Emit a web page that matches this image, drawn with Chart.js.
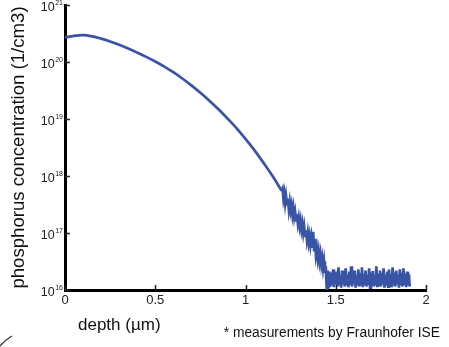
<!DOCTYPE html>
<html>
<head>
<meta charset="utf-8">
<script src="https://cdn.jsdelivr.net/npm/chart.js@4"></script>
<style>
  html, body { margin: 0; padding: 0; background: #fff; }
  #wrap { width: 449px; height: 347px; position: relative; }
</style>
</head>
<body>
<div id="wrap"><canvas id="c" width="449" height="347"></canvas></div>
<script>
// ---- data ----
// smooth diffusion profile (depth in µm, concentration in 1/cm3)
const smoothDepths = [
  0.00, 0.05, 0.10, 0.15, 0.20, 0.25, 0.30, 0.35, 0.40, 0.45,
  0.50, 0.55, 0.60, 0.65, 0.70, 0.75, 0.80, 0.85, 0.90, 0.95,
  1.00, 1.05, 1.10, 1.15, 1.20
];
const smoothConc = [
  2.69e20, 2.88e20, 2.95e20, 2.82e20, 2.57e20, 2.29e20, 2.0e20, 1.72e20, 1.46e20, 1.23e20,
  1.02e20, 8.32e19, 6.61e19, 5.13e19, 3.89e19, 2.88e19, 2.09e19, 1.48e19, 1.02e19, 6.92e18,
  4.47e18, 2.82e18, 1.70e18, 1.0e18, 5.5e17
];
// noisy measured tail
const noisyDepths = [
  1.200, 1.205, 1.210, 1.215, 1.220, 1.225, 1.230, 1.235, 1.240, 1.245,
  1.250, 1.255, 1.260, 1.265, 1.270, 1.275, 1.280, 1.285, 1.290, 1.295,
  1.300, 1.305, 1.310, 1.315, 1.320, 1.325, 1.330, 1.335, 1.340, 1.345,
  1.350, 1.355, 1.360, 1.365, 1.370, 1.375, 1.380, 1.385, 1.390, 1.395,
  1.400, 1.405, 1.410, 1.415, 1.420, 1.425, 1.430, 1.435, 1.440, 1.445,
  1.450, 1.455, 1.460, 1.465, 1.470, 1.475, 1.480, 1.485, 1.490, 1.495,
  1.500, 1.505, 1.510, 1.515, 1.520, 1.525, 1.530, 1.535, 1.540, 1.545,
  1.550, 1.555, 1.560, 1.565, 1.570, 1.575, 1.580, 1.585, 1.590, 1.595,
  1.600, 1.605, 1.610, 1.615, 1.620, 1.625, 1.630, 1.635, 1.640, 1.645,
  1.650, 1.655, 1.660, 1.665, 1.670, 1.675, 1.680, 1.685, 1.690, 1.695,
  1.700, 1.705, 1.710, 1.715, 1.720, 1.725, 1.730, 1.735, 1.740, 1.745,
  1.750, 1.755, 1.760, 1.765, 1.770, 1.775, 1.780, 1.785, 1.790, 1.795,
  1.800, 1.805, 1.810, 1.815, 1.820, 1.825, 1.830, 1.835, 1.840, 1.845,
  1.850, 1.855, 1.860, 1.865, 1.870, 1.875, 1.880, 1.885, 1.890, 1.895,
  1.900, 1.905, 1.910
];
const noisyConc = [
  5.5e17, 6.0e17, 4.0e17, 5.0e17, 3.3e17, 4.4e17, 3.2e17, 4.0e17, 2.6e17, 3.5e17,
  2.5e17, 3.1e17, 2.1e17, 2.75e17, 1.9e17, 2.35e17, 1.66e17, 2.15e17, 1.48e17, 1.86e17,
  1.32e17, 1.66e17, 1.15e17, 1.45e17, 1.0e17, 1.29e17, 8.9e16, 1.12e17, 7.6e16, 1.0e17,
  6.9e16, 8.9e16, 6.2e16, 8.3e16, 5.5e16, 1.05e17, 5.0e16, 7.9e16, 4.2e16, 5.4e16,
  3.6e16, 4.8e16, 3.2e16, 4.2e16, 2.8e16, 3.6e16, 2.4e16, 3.2e16, 2.0e16, 2.6e16,
  1.0e16, 2.2e16, 1.05e16, 2.1e16, 1.15e16, 2.0e16, 1.2e16, 2.3e16, 1.12e16, 1.9e16,
  1.25e16, 2.1e16, 1.15e16, 2.5e16, 1.2e16, 1.8e16, 1.1e16, 2.2e16, 1.26e16, 1.95e16,
  1.15e16, 2.4e16, 1.2e16, 1.85e16, 1.12e16, 2.1e16, 1.22e16, 2.6e16, 1.15e16, 1.9e16,
  1.25e16, 2.2e16, 1.1e16, 1.8e16, 1.2e16, 2.3e16, 1.15e16, 2.0e16, 1.26e16, 2.5e16,
  1.12e16, 1.9e16, 1.2e16, 2.2e16, 1.15e16, 1.85e16, 1.22e16, 2.4e16, 1.1e16, 2.0e16,
  1.25e16, 2.15e16, 1.15e16, 1.8e16, 1.2e16, 2.6e16, 1.12e16, 1.95e16, 1.22e16, 2.2e16,
  1.15e16, 2.0e16, 1.26e16, 2.4e16, 1.1e16, 1.85e16, 1.2e16, 2.1e16, 1.15e16, 2.3e16,
  1.22e16, 1.9e16, 1.12e16, 2.5e16, 1.2e16, 2.0e16, 1.15e16, 2.2e16, 1.25e16, 1.85e16,
  1.1e16, 2.3e16, 1.2e16, 2.0e16, 1.15e16, 2.4e16, 1.22e16, 1.9e16, 1.12e16, 2.1e16,
  1.2e16, 1.9e16, 1.15e16
];
const xTickValues = [0, 0.5, 1, 1.5, 2];
const yTickValues = [1e16, 1e17, 1e18, 1e19, 1e20, 1e21];
const yTickExponents = ['16', '17', '18', '19', '20', '21'];
const yTitle = 'phosphorus concentration (1/cm3)';
const xTitle = 'depth (µm)';
const footnote = '* measurements by Fraunhofer ISE';

const FONT = "'Liberation Sans','Arimo',sans-serif";
const LINE_COLOR = '#3a54a5';

const decorPlugin = {
  id: 'decor',
  afterDraw(chart) {
    const ctx = chart.ctx;
    const xs = chart.scales.x, ys = chart.scales.y;
    ctx.save();
    // inward ticks
    ctx.strokeStyle = '#222';
    ctx.lineWidth = 1.5;
    yTickValues.forEach(v => {
      const p = Math.round(ys.getPixelForValue(v)) + 0.5;
      ctx.beginPath(); ctx.moveTo(xs.left, p); ctx.lineTo(xs.left + 5, p); ctx.stroke();
    });
    xTickValues.forEach(v => {
      const p = Math.round(xs.getPixelForValue(v)) + 0.5;
      ctx.beginPath(); ctx.moveTo(p, ys.bottom); ctx.lineTo(p, ys.bottom - 5); ctx.stroke();
    });
    // y tick labels with superscripts
    ctx.fillStyle = '#222';
    ctx.textBaseline = 'alphabetic';
    ctx.textAlign = 'left';
    yTickValues.forEach((v, i) => {
      const p = ys.getPixelForValue(v);
      const right = xs.left - 2;
      ctx.font = '7px ' + FONT;
      const w2 = ctx.measureText(yTickExponents[i]).width;
      ctx.font = '12.5px ' + FONT;
      const w1 = ctx.measureText('10').width;
      ctx.fillText('10', right - w2 - w1 - 0.5, p + 5.5);
      ctx.font = '7px ' + FONT;
      ctx.fillText(yTickExponents[i], right - w2, p - 0.5);
    });
    // axis titles and footnote
    ctx.fillStyle = '#111';
    ctx.font = '18.6px ' + FONT;
    ctx.textAlign = 'center';
    ctx.textBaseline = 'middle';
    ctx.save();
    ctx.translate(19, (ys.top + ys.bottom) / 2);
    ctx.rotate(-Math.PI / 2);
    ctx.fillText(yTitle, 0, 0);
    ctx.restore();
    ctx.font = '17px ' + FONT;
    ctx.textAlign = 'left';
    ctx.fillText(xTitle, 78, 325);
    ctx.font = '13.8px ' + FONT;
    ctx.textAlign = 'right';
    ctx.fillText(footnote, 440, 333);
    // decorative arc in the lower-left corner
    ctx.strokeStyle = '#333';
    ctx.lineWidth = 1.2;
    ctx.beginPath();
    ctx.moveTo(0, 346);
    ctx.quadraticCurveTo(5, 340, 12, 336);
    ctx.stroke();
    ctx.restore();
  }
};

new Chart(document.getElementById('c'), {
  type: 'line',
  data: {
    datasets: [{
      data: smoothDepths.map((d, i) => ({ x: d, y: smoothConc[i] })),
      borderColor: LINE_COLOR,
      borderWidth: 2.7,
      pointRadius: 0,
      cubicInterpolationMode: 'monotone',
      fill: false
    }, {
      data: noisyDepths.map((d, i) => ({ x: d, y: noisyConc[i] })),
      borderColor: LINE_COLOR,
      borderWidth: 2.7,
      pointRadius: 0,
      tension: 0,
      borderJoinStyle: 'miter',
      fill: false
    }]
  },
  options: {
    responsive: false,
    animation: false,
    devicePixelRatio: 1,
    layout: { padding: { left: 0, top: 5, right: 23, bottom: 0 } },
    plugins: { legend: { display: false }, tooltip: { enabled: false } },
    scales: {
      x: {
        type: 'linear',
        min: 0, max: 2,
        afterBuildTicks: s => { s.ticks = xTickValues.map(v => ({ value: v })); },
        afterFit: s => { s.height = 57; },
        grid: { display: false, drawTicks: false },
        border: { display: true, color: '#000', width: 3 },
        ticks: {
          font: { family: FONT, size: 13 },
          color: '#222',
          padding: 3,
          maxRotation: 0,
          callback: v => String(v)
        }
      },
      y: {
        type: 'logarithmic',
        min: 1e16, max: 1e21,
        afterBuildTicks: s => { s.ticks = yTickValues.map(v => ({ value: v })); },
        afterFit: s => { s.width = 65; },
        grid: { display: false, drawTicks: false },
        border: { display: true, color: '#000', width: 3 },
        ticks: { display: false }
      }
    }
  },
  plugins: [decorPlugin]
});
</script>
</body>
</html>
